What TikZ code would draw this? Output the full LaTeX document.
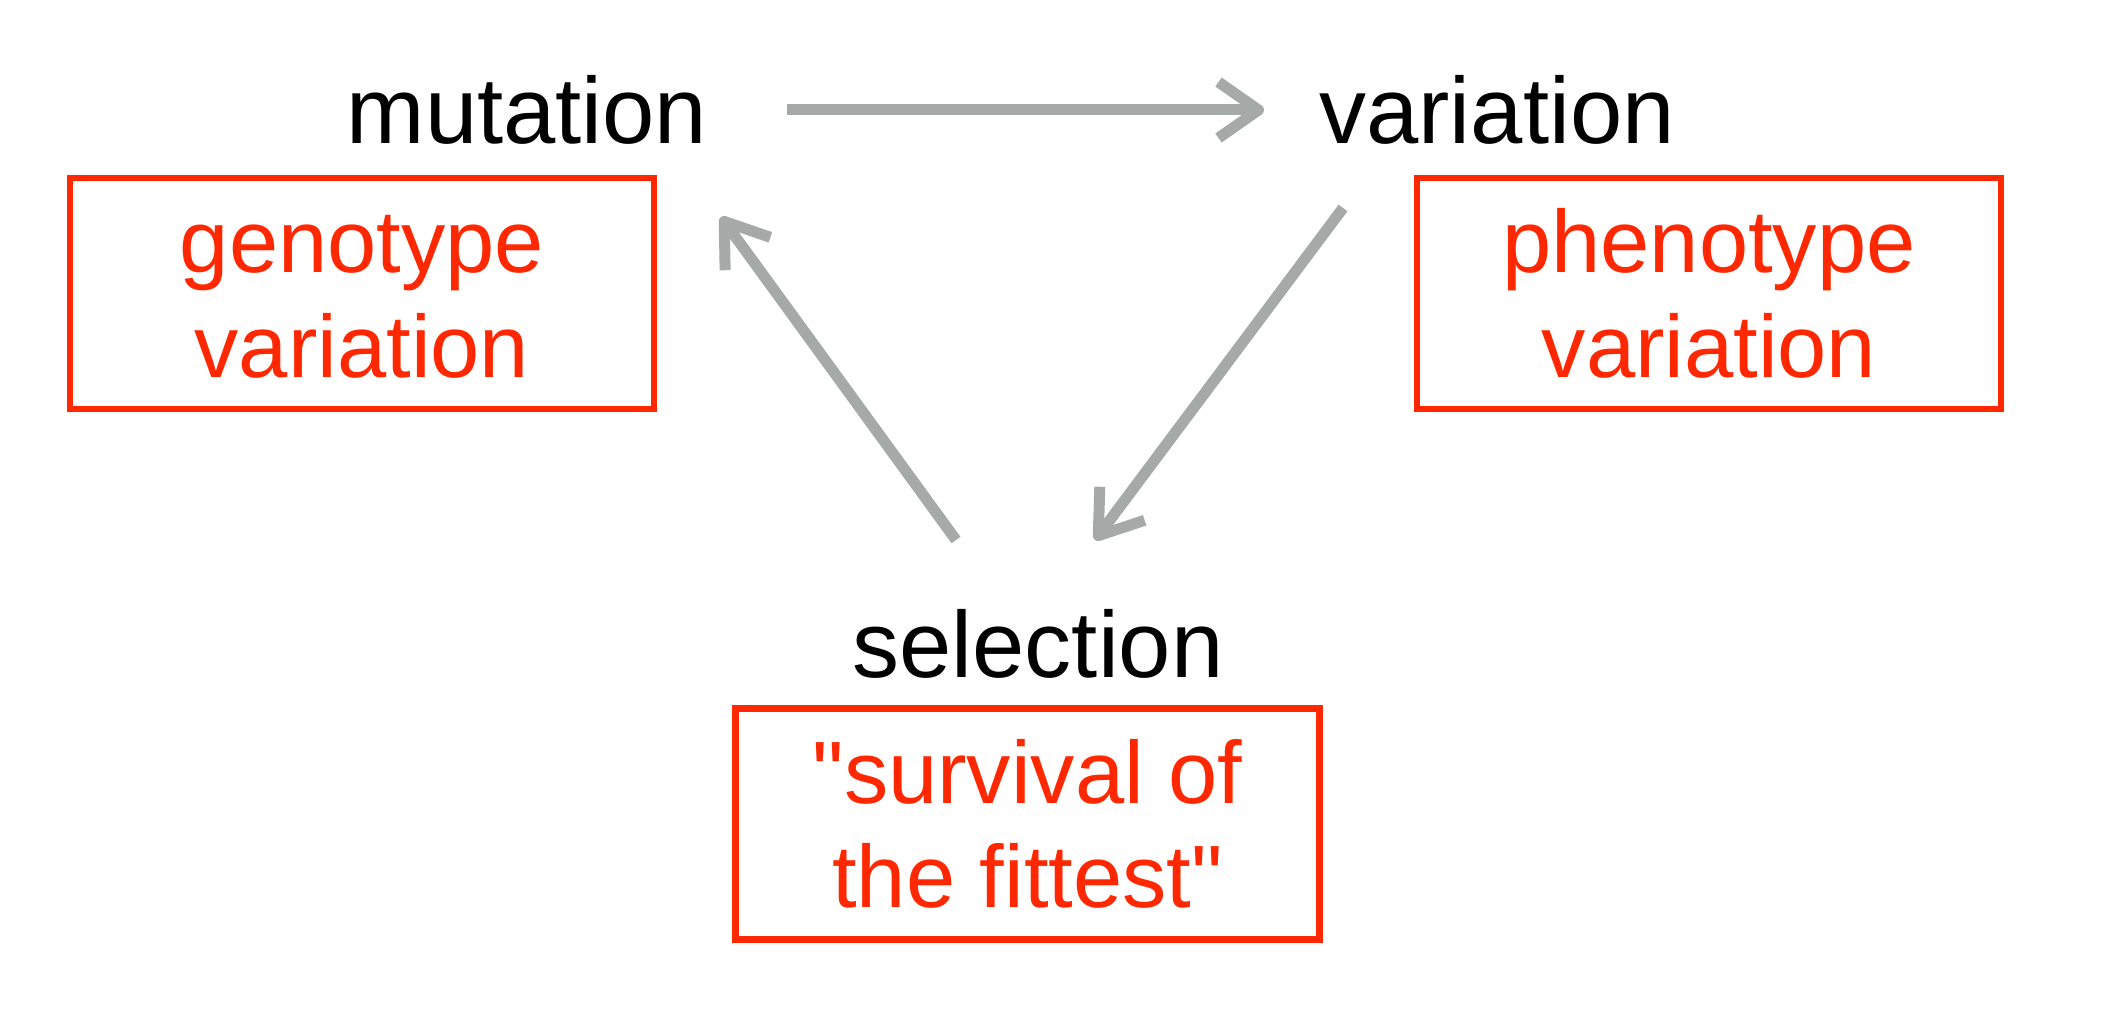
\documentclass[tikz,border=0pt]{standalone}
\usepackage{fontspec}
\setmainfont{Liberation Sans}[Ligatures=TeXOff]
\usetikzlibrary{arrows.meta}
\definecolor{boxred}{RGB}{255,40,0}
\definecolor{arrowgray}{RGB}{165,169,167}
\newcommand{\firststrut}{\rule{0pt}{64pt}}
\tikzset{
  blacklabel/.style={font=\fontsize{94}{110}\selectfont, text=black, inner sep=0pt, anchor=base},
  redbox/.style={draw=boxred, line width=6.5pt, text=boxred, align=center, inner sep=0pt,
    minimum width=584pt, minimum height=231pt, font=\fontsize{88.5}{104.6}\selectfont},
  arr/.style={draw=arrowgray, line width=11pt, line cap=butt,
    -{Straight Barb[length=40pt,width=56pt,line join=round]}}
}
\begin{document}
\begin{tikzpicture}[x=1pt,y=-1pt]
\fill[white] (0,0) rectangle (2102,1014);
\useasboundingbox (0,0) rectangle (2102,1014);

\node[blacklabel] (mut) at (527,143) {mutation};
\node[blacklabel] (var) at (1497,143) {variation};
\node[blacklabel] (sel) at (1038,677) {selection};

\node[redbox] (geno) at (362,293.5) {\firststrut genotype\\variation};
\node[redbox] (pheno) at (1709,293.5) {\firststrut phenotype\\variation};
\node[redbox] (surv) at (1027.5,824) {"survival of\\the fittest"};

\coordinate (a1s) at (787,110);
\coordinate (a1e) at (1264,110);
\coordinate (a2s) at (1343,208);
\coordinate (a2e) at (1095,540);
\coordinate (a3s) at (956,540);
\coordinate (a3e) at (721,217);

\draw[arr] (a1s) -- (a1e);
\draw[arr] (a2s) -- (a2e);
\draw[arr] (a3s) -- (a3e);
\end{tikzpicture}
\end{document}
